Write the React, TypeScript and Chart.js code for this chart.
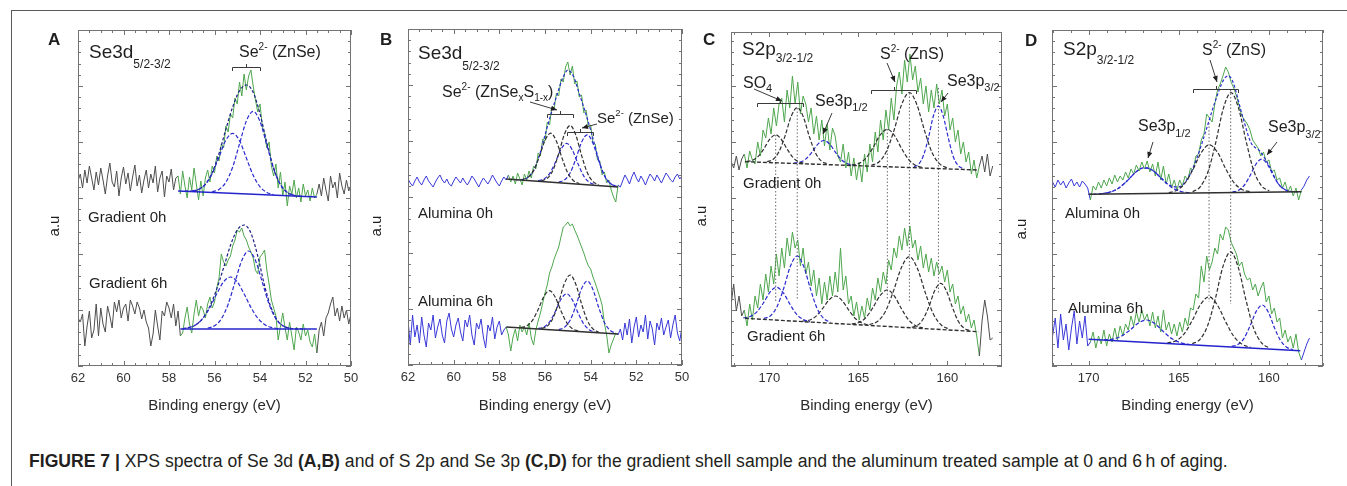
import React, { useEffect, useRef } from "react";
import { Chart, registerables } from "chart.js";
Chart.register(...registerables);

const FONT = '"Liberation Sans", Arial, Helvetica, sans-serif';
const INK = "#1f1f1f";
const GREEN = "#4ea64e";
const BLUE = "#3838d8";
const FIT_BLUE = "#2b2bd0";
const ENV_BLUE = "#1d1d86";
const FIT_BLACK = "#303030";
const GREY_SPEC = "#4d4d4d";
const Y_MINOR = 11.2;

type Pt = [number, number];

// ================= Panel A : Se 3d, gradient shell (energy grid 62 -> 50, 0.1 eV) =================
const A_START = 62.0;
const A_STEP = 0.1;
const A_TOP: number[] = [
  185, 192, 178, 196, 183, 200, 188, 176, 194, 181,
  198, 186, 172, 190, 203, 184, 179, 195, 170, 188,
  199, 182, 193, 175, 189, 201, 180, 191, 173, 186,
  196, 178, 192, 183, 200, 174, 188, 195, 169, 190,
  184, 197, 176, 188,
  190, 172, 195, 180, 168, 189, 176, 198, 182, 166,
  185, 170, 188, 196, 184, 200, 193, 210, 205, 222,
  218, 240, 234, 252, 248, 268, 262, 284, 270, 292,
  276, 290, 296, 280, 266, 254, 262, 240, 232, 218,
  224, 200, 190, 202, 178, 194, 170, 184, 160, 180,
  172, 186, 168, 178, 164, 182, 170, 176, 165, 178,
  168, 172,
  182, 170, 188, 176, 165, 190, 178, 184, 168, 193, 180, 172, 186, 175, 181,
];
const A_BOT: number[] = [
  48, 44, 52, 20, 40, 55, 28, 36, 62, 30,
  58, 42, 34, 60, 50, 38, 64, 54, 66, 48,
  58, 62, 45, 66, 60, 52, 64, 58, 47, 56,
  44, 38, 20, 32, 56, 40, 26, 55, 50, 64,
  58, 48, 62, 40, 55, 30,
  33, 48, 59, 42, 33, 52, 66, 50, 60, 56,
  48, 62, 69, 58, 64, 78, 88, 112, 104, 100,
  106, 110, 120, 126, 136, 134, 138, 130, 126, 119,
  114, 108, 96, 92, 109, 112, 116, 96, 82, 66,
  58, 50, 26, 40, 53, 38, 26, 44, 30, 16,
  39, 34, 26, 42, 30, 36, 24, 19, 32, 13,
  36, 44, 30, 48, 53, 62, 69, 50, 58, 45, 60, 48, 56, 42, 52,
];
const A_TOP_G1: Pt[] = [[57.0,175],[56.7,176.6],[56.4,181.6],[56.1,192.5],[55.8,209.2],[55.5,225.9],[55.2,232.6],[54.9,225.3],[54.6,208],[54.3,190.7],[54.0,179.2],[53.7,173.6],[53.4,171.4]];
const A_TOP_G2: Pt[] = [[56.1,174.3],[55.8,176.6],[55.5,183.7],[55.2,199],[54.9,222.2],[54.6,245],[54.3,254.7],[54.0,244.4],[53.7,221],[53.4,197.2],[53.1,181.3],[52.8,173.6],[52.5,170.7]];
const A_TOP_ENV: Pt[] = [[57.3,174.8],[57.0,175],[56.7,176.6],[56.4,181.8],[56.1,193.3],[55.8,212.6],[55.5,236.7],[55.2,259],[54.9,275.2],[54.6,281],[54.3,273.7],[54.0,252.2],[53.7,223.5],[53.4,197.8],[53.1,181.4],[52.8,173.6],[52.5,170.7],[52.2,169.8]];
const A_TOP_BG: Pt[] = [[57.6,175],[51.5,169]];
const A_BOT_G1: Pt[] = [[57.4,37.4],[57.1,38.6],[56.8,41.5],[56.5,47.9],[56.2,58.6],[55.9,72.2],[55.6,84.2],[55.3,89],[55.0,84.2],[54.7,72.2],[54.4,58.6],[54.1,47.9],[53.8,41.5],[53.5,38.6],[53.2,37.4]];
const A_BOT_G2: Pt[] = [[56.3,37.8],[56.0,40.2],[55.7,47.1],[55.4,61.8],[55.1,83.9],[54.8,105.6],[54.5,115],[54.2,105.6],[53.9,83.9],[53.6,61.8],[53.3,47.1],[53.0,40.2],[52.7,37.8]];
const A_BOT_ENV: Pt[] = [[57.4,37.4],[57.1,38.6],[56.8,41.6],[56.5,48.2],[56.2,59.9],[55.9,77.1],[55.6,98.2],[55.3,120.5],[55.0,136],[54.7,141],[54.4,133],[54.1,110.1],[53.8,80.5],[53.5,57.6],[53.2,44.5],[52.9,39.2],[52.6,37.5],[52.3,37.1],[52.0,37]];
const A_BOT_BG: Pt[] = [[57.5,37],[51.5,37]];

// ================= Panel B : Se 3d, alumina treated (62 -> 50, 0.1 eV) =================
const B_START = 62.0;
const B_STEP = 0.1;
const B_TOP: number[] = [
  186, 182, 179, 184, 188, 183, 180, 185, 189, 184,
  181, 178, 183, 187, 190, 185, 182, 186, 181, 179,
  184, 188, 185, 182, 187, 183, 180, 184, 189, 186,
  182, 178, 183, 187, 184, 181, 185, 190, 186, 182,
  179, 184, 188, 185,
  190, 183, 189, 181, 192, 186, 180, 191, 185, 194,
  187, 199, 196, 212, 209, 226, 224, 243, 240, 258,
  256, 272, 269, 286, 283, 298, 303, 290, 299, 281,
  284, 268, 270, 252, 255, 238, 240, 222, 221, 205,
  204, 190, 193, 182, 185, 175, 168, 163, 180,
  178, 184, 190, 186, 181, 188, 193, 187, 183, 189, 185, 180, 186, 191,
  188, 184, 190, 186, 182, 187, 192, 189, 185, 183, 188, 191, 186, 189,
];
const B_BOT: number[] = [
  45, 20, 50, 28, 40, 22, 48, 30, 18, 42,
  35, 50, 27, 38, 46, 30, 22, 44, 52, 36,
  28, 40, 47, 33, 24, 45, 38, 50, 30, 20,
  42, 36, 46, 28, 17, 40, 34, 48, 26, 38,
  44, 30, 35,
  38, 30, 14, 28, 36, 24, 40, 33, 38, 30,
  42, 27, 20, 35, 44, 52, 62, 72, 80, 92,
  98, 106, 112, 118, 128, 138, 140, 143, 139, 141,
  135, 130, 124, 118, 112, 105, 99, 96, 88, 82,
  75, 68, 60, 42, 30, 12, 20, 26, 32, 30,
  36, 25, 42, 30, 46, 22, 38, 48, 28, 40, 33, 50, 26, 44,
  36, 20, 42, 35, 47, 30, 38, 45, 27, 40, 50, 32, 24, 38,
];
const B_TOP_G1: Pt[] = [[57.0,185.5],[56.75,187.6],[56.5,194.4],[56.25,208.2],[56.0,224.5],[55.75,231.9],[55.5,223.7],[55.25,206.6],[55.0,191.9],[54.75,184.3],[54.5,181.4]];
const B_TOP_G2: Pt[] = [[56.15,184.3],[55.9,186.7],[55.65,194.9],[55.4,211.3],[55.15,230.7],[54.9,239.5],[54.65,229.9],[54.4,209.7],[54.15,192.4],[53.9,183.4],[53.65,180.2]];
const B_TOP_G3: Pt[] = [[56.3,184.3],[56.05,185.9],[55.8,191.4],[55.55,202.5],[55.3,215.7],[55.05,221.7],[54.8,214.9],[54.55,200.9],[54.3,188.9],[54.05,182.6],[53.8,180.2]];
const B_TOP_G4: Pt[] = [[55.4,183],[55.15,185],[54.9,192],[54.65,206.1],[54.4,222.7],[54.15,230.2],[53.9,221.8],[53.65,204.4],[53.4,189.5],[53.15,181.7],[52.9,178.9]];
const B_TOP_ENV: Pt[] = [[57.5,185.7],[57.25,185.4],[57.0,185.5],[56.75,187.6],[56.5,194.5],[56.25,209.3],[56.0,229.8],[55.75,250],[55.5,268.2],[55.25,285.4],[55.0,294.8],[54.75,288.4],[54.5,271.5],[54.25,253.9],[54.0,235],[53.75,213.6],[53.5,194.9],[53.25,184.1],[53.0,179.7],[52.75,178.2]];
const B_TOP_BG: Pt[] = [[57.7,186],[52.8,178]];
const B_BOT_G1: Pt[] = [[57.05,37.6],[56.8,39.1],[56.55,44.6],[56.3,55.5],[56.05,68.4],[55.8,74.3],[55.55,67.7],[55.3,54.1],[55.05,42.4],[54.8,36.3],[54.55,34.0]];
const B_BOT_G2: Pt[] = [[56.15,36.5],[55.9,38.9],[55.65,46.9],[55.4,62.7],[55.15,81.5],[54.9,90],[54.65,80.7],[54.4,61.3],[54.15,44.7],[53.9,36.1],[53.65,32.9]];
const B_BOT_G3: Pt[] = [[56.3,36.5],[56.05,37.9],[55.8,43.1],[55.55,53.4],[55.3,65.7],[55.05,71.2],[54.8,65],[54.55,52],[54.3,40.9],[54.05,35.1],[53.8,32.9]];
const B_BOT_G4: Pt[] = [[55.4,35.4],[55.15,37.6],[54.9,44.7],[54.65,59.1],[54.4,76.2],[54.15,83.9],[53.9,75.5],[53.65,57.7],[53.4,42.6],[53.15,34.7],[52.9,31.8]];
const B_BOT_BG: Pt[] = [[57.7,38],[52.8,31]];

// ================= Panel C : S 2p / Se 3p, gradient shell (172.15 -> 157.45, 0.15 eV) =================
const C_START = 172.15;
const C_STEP = 0.15;
const C_TOP: number[] = [
  205, 198, 210, 196, 207,
  212, 198, 215, 206, 202, 224, 210, 236, 228, 248,
  232, 258, 240, 262, 268, 244, 276, 258, 290, 262,
  284, 252, 270, 262, 244, 258, 232, 250, 226, 246,
  220, 242, 216, 238, 230, 210, 204, 222, 198, 214,
  190, 208, 186, 204, 184, 212, 194, 222, 204, 234,
  214, 246, 226, 256, 236, 268, 246, 280, 294, 272,
  306, 284, 312, 286, 300, 274, 288, 262, 280, 254,
  276, 258, 282, 262, 276, 250, 262, 236, 248, 224,
  236, 212, 224, 204, 214, 192, 206, 188, 200,
  210, 194, 212, 190, 200,
];
const C_BOT: number[] = [
  60, 82, 55, 70, 50,
  56, 40, 62, 46, 70, 58, 82, 66, 92, 74,
  100, 82, 112, 90, 118, 98, 128, 110, 134, 118,
  126, 100, 118, 92, 104, 80, 96, 70, 88, 62,
  84, 66, 90, 70, 94, 74, 118, 76, 90, 62,
  70, 50, 64, 46, 60, 48, 68, 56, 78, 66,
  88, 74, 94, 82, 106, 96, 118, 108, 130, 116,
  138, 120, 140, 118, 126, 106, 120, 98, 112, 94,
  108, 90, 104, 92, 100, 84, 96, 74, 82, 62,
  70, 52, 60, 44, 52, 38, 46, 30, 10,
  45, 66, 50, 26, 28,
];
const C_TOP_P1: Pt[] = [[171.27,204.6],[170.94,205.8],[170.62,209.7],[170.29,217.6],[169.97,226.9],[169.64,231.2],[169.32,226.5],[168.99,216.8],[168.67,208.5],[168.34,204.2],[168.02,202.6]];
const C_TOP_P2: Pt[] = [[170.12,204.2],[169.78,206.8],[169.44,214.9],[169.10,230.8],[168.77,249.7],[168.43,258.4],[168.09,249.3],[167.76,230],[167.42,213.6],[167.08,205.1],[166.74,202.1]];
const C_TOP_P3: Pt[] = [[168.62,202.8],[168.28,203.8],[167.94,207.1],[167.60,213.9],[167.27,221.9],[166.93,225.5],[166.59,221.5],[166.26,213.1],[165.92,205.8],[165.58,202.1],[165.24,200.7]];
const C_TOP_P4: Pt[] = [[165.37,201],[164.97,202.5],[164.57,207.9],[164.17,218.5],[163.77,231],[163.37,236.7],[162.97,230.5],[162.57,217.5],[162.17,206.4],[161.77,200.5],[161.37,198.5]];
const C_TOP_P5: Pt[] = [[164.26,200.8],[163.83,204.2],[163.41,215.1],[162.98,236.5],[162.56,261.8],[162.13,273.5],[161.71,261.3],[161.28,235.4],[160.86,213.5],[160.43,202.1],[160.01,198.1]];
const C_TOP_P6: Pt[] = [[161.88,199.1],[161.6,202],[161.33,211],[161.05,229.1],[160.78,250.2],[160.5,260],[160.23,249.9],[159.95,228.4],[159.68,210],[159.4,200.6],[159.13,197.4]];
const C_TOP_BG: Pt[] = [[171.37,204.3],[158.24,196]];
const C_BOT_Q1: Pt[] = [[171.46,48.2],[171.08,49.5],[170.71,53.9],[170.33,63],[169.96,73.9],[169.58,78.7],[169.21,73.1],[168.83,61.5],[168.46,51.6],[168.08,46.4],[167.71,44.4]];
const C_BOT_Q2: Pt[] = [[170.31,47.5],[169.93,50.3],[169.56,59.6],[169.18,78.2],[168.81,100],[168.43,110],[168.06,99.2],[167.68,76.6],[167.31,57.3],[166.93,47.3],[166.56,43.7]];
const C_BOT_Q3: Pt[] = [[168.15,44.8],[167.77,45.7],[167.40,49.4],[167.02,57.1],[166.65,66],[166.27,70],[165.90,65.2],[165.52,55.5],[165.15,47.2],[164.77,42.7],[164.40,41]];
const C_BOT_Q4: Pt[] = [[165.37,42.1],[164.97,43.5],[164.57,48.5],[164.17,58.7],[163.77,70.6],[163.37,76],[162.97,69.8],[162.57,57],[162.17,46],[161.77,40.2],[161.37,38]];
const C_BOT_Q5: Pt[] = [[164.38,41.5],[163.93,44.5],[163.48,54.5],[163.03,74.7],[162.58,98.4],[162.13,109.3],[161.68,97.5],[161.23,72.9],[160.78,51.8],[160.33,40.8],[159.88,36.9]];
const C_BOT_Q6: Pt[] = [[162.0,38.7],[161.67,40.7],[161.35,47.2],[161.02,60.2],[160.70,75.7],[160.37,82.7],[160.05,75],[159.72,58.9],[159.40,45.2],[159.07,38],[158.75,35.4]];
const C_BOT_BG: Pt[] = [[171.37,47.7],[158.24,34.3]];
const C_GUIDE_E: number[] = [169.64, 168.43, 163.37, 162.13, 160.5];
const C_GUIDE_TOP: number[] = [231, 258, 237, 273, 278];
const C_GUIDE_BOT: number[] = [63, 66, 66, 64, 73];

// ================= Panel D : S 2p / Se 3p, alumina treated (172.0 -> 157.75, 0.15 eV) =================
const D_START = 172.0;
const D_STEP = 0.15;
const D_TOP: number[] = [
  184, 179, 186, 181, 185, 178, 183, 187, 180, 184, 179, 185, 182, 178,
  166, 180, 176, 184, 178, 186, 180, 188, 182, 191,
  184, 190, 186, 194, 188, 197, 192, 201, 195, 204,
  197, 205, 194, 202, 190, 204, 186, 200, 182, 192,
  178, 186, 176, 186, 180, 190, 186, 198, 196, 210,
  212, 226, 232, 252, 248, 244, 262, 276, 282, 290,
  299, 294, 284, 278, 270, 260, 250, 246, 242, 236,
  226, 222, 218, 210, 214, 204, 206, 194, 196, 186,
  188, 178, 184, 174, 180, 170, 178, 166, 176,
  180, 186, 190,
];
const D_BOT: number[] = [
  30, 48, 18, 52, 26, 42, 16, 38, 55, 22, 45, 28, 50, 20,
  24, 34, 18, 30, 22, 36, 20, 32, 24, 38,
  26, 40, 30, 42, 36, 50, 40, 54, 44, 56,
  46, 52, 40, 54, 38, 50, 34, 56, 36, 44,
  32, 42, 30, 44, 34, 48, 40, 58, 56, 72,
  68, 100, 84, 110, 96, 104, 118, 112, 132, 126,
  139, 136, 124, 118, 112, 100, 104, 92, 86, 88,
  76, 82, 70, 78, 84, 64, 70, 52, 58, 44,
  48, 28, 36, 24, 30, 18, 32, 14, 6,
  14, 22, 28,
];
const D_TOP_R1: Pt[] = [[169.36,172.1],[168.86,173.6],[168.36,177.6],[167.86,185.2],[167.36,194.2],[166.86,198.4],[166.36,194.4],[165.86,185.6],[165.36,178.2],[164.86,174.4],[164.36,173.2]];
const D_TOP_R2: Pt[] = [[165.55,173.3],[165.1,175.8],[164.65,183],[164.2,197],[163.75,213.5],[163.3,221.2],[162.85,213.7],[162.4,197.4],[161.95,183.6],[161.5,176.6],[161.05,174.3]];
const D_TOP_R3: Pt[] = [[164.23,174.3],[163.8,179.4],[163.38,194.2],[162.95,223.3],[162.53,257.4],[162.1,273.4],[161.68,257.6],[161.25,223.6],[160.83,194.7],[160.4,180],[159.98,175.2]];
const D_TOP_R4: Pt[] = [[162.03,173.9],[161.7,175.6],[161.38,180.5],[161.05,190.2],[160.73,201.5],[160.4,206.8],[160.08,201.7],[159.75,190.4],[159.43,180.9],[159.1,176.2],[158.78,174.6]];
const D_TOP_ENV: Pt[] = [[170,171.7],[169.5,172.0],[169,173.1],[168.5,176.1],[168,182.8],[167.5,191.9],[167,198.0],[166.5,196.3],[166,188.3],[165.5,180.7],[165,179.2],[164.5,187.6],[164,207.6],[163.5,235],[163,263.5],[162.5,286.6],[162.25,290],[162,284.3],[161.5,252.2],[161,223.5],[160.5,214.9],[160,200.6],[159.5,182.9],[159,175.4],[158.5,174.2],[158.2,174.3]];
const D_TOP_BG: Pt[] = [[170,171.7],[158.2,174.3]];
const D_BOT_S1: Pt[] = [[169.15,26.2],[168.67,26.8],[168.2,29.7],[167.72,35.7],[167.25,42.8],[166.77,46],[166.3,41.9],[165.82,33.9],[165.35,26.9],[164.87,23.1],[164.4,21.6]];
const D_BOT_S2: Pt[] = [[165.63,23.1],[165.17,25.1],[164.71,31.9],[164.25,45.6],[163.78,61.9],[163.32,69.2],[162.86,61],[162.39,43.9],[161.93,29.2],[161.47,21.6],[161.01,18.6]];
const D_BOT_S3: Pt[] = [[164.25,22.3],[163.82,26.6],[163.4,40.3],[162.97,67.4],[162.55,99.4],[162.12,114.1],[161.7,98.6],[161.27,65.8],[160.85,37.9],[160.42,23.3],[160.0,18.2]];
const D_BOT_S4: Pt[] = [[162.06,19.6],[161.72,21.4],[161.38,27.6],[161.05,39.9],[160.71,54.4],[160.37,61],[160.03,53.8],[159.7,38.6],[159.36,25.6],[159.02,18.8],[158.68,16.4]];
const D_BOT_BG: Pt[] = [[170,26.7],[158.26,15.3]];
const D_GUIDE_E: number[] = [163.32, 162.12];
const D_GUIDE_TOP: number[] = [243, 276];
const D_GUIDE_BOT: number[] = [64, 62];

// ================= drawing helpers =================
type Part = [string, number, number?];
function rich(ctx: CanvasRenderingContext2D, x: number, y: number, parts: Part[], bold = false) {
  let cx = x;
  ctx.textAlign = "left";
  ctx.textBaseline = "alphabetic";
  for (const [t, size, dy] of parts) {
    ctx.font = `${bold ? "bold " : ""}${size}px ${FONT}`;
    ctx.fillText(t, cx, y + (dy || 0));
    cx += ctx.measureText(t).width;
  }
}
function vtext(ctx: CanvasRenderingContext2D, x: number, y: number, t: string, size: number) {
  ctx.save();
  ctx.translate(x, y);
  ctx.rotate(-Math.PI / 2);
  ctx.font = `${size}px ${FONT}`;
  ctx.textAlign = "center";
  ctx.textBaseline = "middle";
  ctx.fillText(t, 0, 0);
  ctx.restore();
}
function arrow(ctx: CanvasRenderingContext2D, x1: number, y1: number, x2: number, y2: number) {
  ctx.beginPath();
  ctx.moveTo(x1, y1);
  ctx.lineTo(x2, y2);
  ctx.stroke();
  const a = Math.atan2(y2 - y1, x2 - x1);
  const L = 6, W = 2.6;
  ctx.beginPath();
  ctx.moveTo(x2, y2);
  ctx.lineTo(x2 - L * Math.cos(a) + W * Math.sin(a), y2 - L * Math.sin(a) - W * Math.cos(a));
  ctx.lineTo(x2 - L * Math.cos(a) - W * Math.sin(a), y2 - L * Math.sin(a) + W * Math.cos(a));
  ctx.closePath();
  ctx.fill();
}
function bracket(ctx: CanvasRenderingContext2D, x1: number, x2: number, y: number) {
  ctx.beginPath();
  ctx.moveTo(x1 + 0.5, y + 4);
  ctx.lineTo(x1 + 0.5, y + 0.5);
  ctx.lineTo(x2 + 0.5, y + 0.5);
  ctx.lineTo(x2 + 0.5, y + 4);
  const m = Math.round((x1 + x2) / 2) + 0.5;
  ctx.moveTo(m, y);
  ctx.lineTo(m, y - 3);
  ctx.stroke();
}

function drawA(ctx: CanvasRenderingContext2D) {
  rich(ctx, 48, 45, [["A", 17]], true);
  rich(ctx, 89, 58, [["Se3d", 19], ["5/2-3/2", 12, 10]]);
  rich(ctx, 239, 57, [["Se", 16], ["2-", 10, -7], [" (ZnSe)", 16]]);
  bracket(ctx, 232, 260, 67);
  rich(ctx, 88, 222, [["Gradient 0h", 15]]);
  rich(ctx, 89, 288, [["Gradient 6h", 15]]);
  vtext(ctx, 55, 226, "a.u", 15);
}
function drawB(ctx: CanvasRenderingContext2D) {
  rich(ctx, 380, 45, [["B", 17]], true);
  rich(ctx, 418, 59, [["Se3d", 19], ["5/2-3/2", 12, 11]]);
  rich(ctx, 442, 97, [["Se", 16], ["2-", 10, -7], [" (ZnSe", 16], ["x", 10, 4], ["S", 16], ["1-x", 10, 4], [")", 16]]);
  arrow(ctx, 530, 102, 557, 110);
  bracket(ctx, 547, 573, 114);
  rich(ctx, 597, 123, [["Se", 15], ["2-", 9.5, -7], [" (ZnSe)", 15]]);
  arrow(ctx, 597, 124, 582, 128);
  bracket(ctx, 567, 593, 132);
  rich(ctx, 418, 218, [["Alumina 0h", 15]]);
  rich(ctx, 418, 306, [["Alumina 6h", 15]]);
  vtext(ctx, 377, 226, "a.u", 15);
}
function drawC(ctx: CanvasRenderingContext2D) {
  rich(ctx, 703, 45, [["C", 17]], true);
  rich(ctx, 742, 55, [["S2p", 19], ["3/2-1/2", 12, 7]]);
  rich(ctx, 743, 88, [["SO", 16], ["4", 11, 4]]);
  arrow(ctx, 754, 89, 782, 101);
  bracket(ctx, 757, 803, 103);
  rich(ctx, 815, 106, [["Se3p", 16], ["1/2", 11, 5]]);
  arrow(ctx, 832, 113, 823, 134);
  rich(ctx, 880, 59, [["S", 16], ["2-", 10, -7], [" (ZnS)", 16]]);
  arrow(ctx, 887, 63, 895, 82);
  bracket(ctx, 871, 916, 90);
  rich(ctx, 947, 86, [["Se3p", 16], ["3/2", 11, 5]]);
  arrow(ctx, 948, 93, 941, 102);
  rich(ctx, 743, 188, [["Gradient 0h", 15]]);
  rich(ctx, 747, 341, [["Gradient 6h", 15]]);
  vtext(ctx, 702, 216, "a.u", 15);
}
function drawD(ctx: CanvasRenderingContext2D) {
  rich(ctx, 1025, 46, [["D", 17]], true);
  rich(ctx, 1063, 55, [["S2p", 19], ["3/2-1/2", 12, 9]]);
  rich(ctx, 1202, 55, [["S", 16], ["2-", 10, -7], [" (ZnS)", 16]]);
  arrow(ctx, 1210, 60, 1217, 82);
  bracket(ctx, 1193, 1238, 89);
  rich(ctx, 1138, 131, [["Se3p", 16], ["1/2", 11, 6]]);
  arrow(ctx, 1153, 142, 1148, 158);
  rich(ctx, 1268, 132, [["Se3p", 16], ["3/2", 11, 6]]);
  arrow(ctx, 1277, 142, 1267, 155);
  rich(ctx, 1065, 218, [["Alumina 0h", 15]]);
  rich(ctx, 1068, 313, [["Alumina 6h", 15]]);
  vtext(ctx, 1022, 229, "a.u", 15);
}

// ================= panel definitions =================
interface Spec { start: number; step: number; vals: number[]; hi: number; lo: number; outer: string }
interface Fit { pts: Pt[]; color: string; dash?: number[]; width?: number }
interface Guides { e: number[]; top: number[]; bot: number[] }
interface PanelDef {
  l: number; r: number; t: number; b: number;
  xMin: number; xMax: number; major: number; minor: number;
  specs: Spec[]; fits: Fit[]; guides?: Guides;
  draw: (ctx: CanvasRenderingContext2D) => void;
}
const DASH = [4, 2];
const bf = (pts: Pt[]): Fit => ({ pts, color: FIT_BLUE, dash: DASH });
const kf = (pts: Pt[]): Fit => ({ pts, color: FIT_BLACK, dash: DASH });

const PANELS: PanelDef[] = [
  {
    l: 78, r: 351, t: 30, b: 366, xMin: 50, xMax: 62, major: 2, minor: 0.5,
    specs: [
      { start: A_START, step: A_STEP, vals: A_TOP, hi: 57.6, lo: 51.5, outer: GREY_SPEC },
      { start: A_START, step: A_STEP, vals: A_BOT, hi: 57.5, lo: 51.5, outer: GREY_SPEC },
    ],
    fits: [
      { pts: A_TOP_BG, color: "#2424cc", width: 1.6 }, bf(A_TOP_G1), bf(A_TOP_G2), { pts: A_TOP_ENV, color: ENV_BLUE, dash: [3, 2] },
      { pts: A_BOT_BG, color: "#2424cc", width: 1.6 }, bf(A_BOT_G1), bf(A_BOT_G2), { pts: A_BOT_ENV, color: ENV_BLUE, dash: [3, 2] },
    ],
    draw: drawA,
  },
  {
    l: 408, r: 682, t: 29, b: 365, xMin: 50, xMax: 62, major: 2, minor: 0.5,
    specs: [
      { start: B_START, step: B_STEP, vals: B_TOP, hi: 57.6, lo: 52.8, outer: BLUE },
      { start: B_START, step: B_STEP, vals: B_BOT, hi: 57.7, lo: 52.8, outer: BLUE },
    ],
    fits: [
      { pts: B_TOP_BG, color: FIT_BLACK, width: 1.4 }, kf(B_TOP_G1), kf(B_TOP_G2), bf(B_TOP_G3), bf(B_TOP_G4),
      { pts: B_TOP_ENV, color: FIT_BLUE, dash: [3, 2] },
      { pts: B_BOT_BG, color: FIT_BLACK, width: 1.4 }, kf(B_BOT_G1), kf(B_BOT_G2), bf(B_BOT_G3), bf(B_BOT_G4),
    ],
    draw: drawB,
  },
  {
    l: 731, r: 1002, t: 32, b: 366, xMin: 156.93, xMax: 172.15, major: 5, minor: 1,
    specs: [
      { start: C_START, step: C_STEP, vals: C_TOP, hi: 171.4, lo: 158.2, outer: GREY_SPEC },
      { start: C_START, step: C_STEP, vals: C_BOT, hi: 171.4, lo: 158.2, outer: GREY_SPEC },
    ],
    fits: [
      { pts: C_TOP_BG, color: FIT_BLACK, dash: DASH, width: 1.4 }, kf(C_TOP_P1), kf(C_TOP_P2), bf(C_TOP_P3), kf(C_TOP_P4), kf(C_TOP_P5), bf(C_TOP_P6),
      { pts: C_BOT_BG, color: FIT_BLACK, dash: DASH, width: 1.4 }, bf(C_BOT_Q1), bf(C_BOT_Q2), kf(C_BOT_Q3), kf(C_BOT_Q4), kf(C_BOT_Q5), kf(C_BOT_Q6),
    ],
    guides: { e: C_GUIDE_E, top: C_GUIDE_TOP, bot: C_GUIDE_BOT },
    draw: drawC,
  },
  {
    l: 1052, r: 1323, t: 30, b: 366, xMin: 157.0, xMax: 172.03, major: 5, minor: 1,
    specs: [
      { start: D_START, step: D_STEP, vals: D_TOP, hi: 170.0, lo: 158.2, outer: BLUE },
      { start: D_START, step: D_STEP, vals: D_BOT, hi: 170.0, lo: 158.2, outer: BLUE },
    ],
    fits: [
      { pts: D_TOP_BG, color: FIT_BLACK, width: 1.4 }, bf(D_TOP_R1), kf(D_TOP_R2), kf(D_TOP_R3), bf(D_TOP_R4),
      { pts: D_TOP_ENV, color: FIT_BLUE, dash: [3, 2] },
      { pts: D_BOT_BG, color: "#2424cc", width: 1.6 }, bf(D_BOT_S1), kf(D_BOT_S2), kf(D_BOT_S3), bf(D_BOT_S4),
    ],
    guides: { e: D_GUIDE_E, top: D_GUIDE_TOP, bot: D_GUIDE_BOT },
    draw: drawD,
  },
];

const PAD_L = 40;
const PAD_R = 10;
const CANVAS_H = 430;
const AXIS_BOTTOM = 419;

function PanelChart({ p }: { p: PanelDef }) {
  const ref = useRef<HTMLCanvasElement>(null);
  const left = p.l - PAD_L;
  const width = p.r - p.l + PAD_L + PAD_R;
  useEffect(() => {
    const canvas = ref.current;
    if (!canvas) return;
    const datasets: any[] = [];
    p.specs.forEach((s) => {
      datasets.push({
        data: s.vals.map((v, i) => ({ x: +(s.start - s.step * i).toFixed(3), y: v })),
        borderColor: s.outer,
        borderWidth: 1,
        pointRadius: 0,
        order: 3,
        segment: {
          borderColor: (c: any) =>
            c.p0.parsed.x <= s.hi + 1e-6 && c.p1.parsed.x >= s.lo - 1e-6 ? GREEN : s.outer,
        },
      });
    });
    p.fits.forEach((f) => {
      datasets.push({
        data: f.pts.map(([x, y]) => ({ x, y })),
        borderColor: f.color,
        borderWidth: f.width ?? 1.2,
        borderDash: f.dash ?? [],
        pointRadius: 0,
        cubicInterpolationMode: "monotone",
        order: 1,
      });
    });
    if (p.guides) {
      const g = p.guides;
      g.e.forEach((e, i) => {
        datasets.push({
          data: [{ x: e, y: g.top[i] }, { x: e, y: g.bot[i] }],
          borderColor: "#6a6a6a",
          borderWidth: 1,
          borderDash: [1.5, 2],
          pointRadius: 0,
          order: 2,
        });
      });
    }
    const framePlugin = {
      id: "frame",
      afterDraw(chart: any) {
        const { ctx, chartArea: a, scales } = chart;
        const xs = scales.x, ys = scales.y;
        ctx.save();
        ctx.strokeStyle = "#737373";
        ctx.lineWidth = 1;
        ctx.strokeRect(a.left + 0.5, a.top + 0.5, a.right - a.left - 1, a.bottom - a.top - 1);
        ctx.beginPath();
        const first = Math.ceil(p.xMin / p.minor - 1e-9);
        const last = Math.floor(p.xMax / p.minor + 1e-9);
        for (let k = first; k <= last; k++) {
          const e = k * p.minor;
          const px = Math.round(xs.getPixelForValue(e)) + 0.5;
          const q = e / p.major;
          const L = Math.abs(q - Math.round(q)) < 1e-6 ? 5 : 3;
          ctx.moveTo(px, a.bottom);
          ctx.lineTo(px, a.bottom - L);
          ctx.moveTo(px, a.top);
          ctx.lineTo(px, a.top + L);
        }
        for (let k = 0; k * Y_MINOR <= ys.max + 1e-6; k++) {
          const py = Math.round(ys.getPixelForValue(k * Y_MINOR)) + 0.5;
          const L = k % 5 === 0 ? 5 : 3;
          ctx.moveTo(a.left, py);
          ctx.lineTo(a.left + L, py);
          ctx.moveTo(a.right, py);
          ctx.lineTo(a.right - L, py);
        }
        ctx.stroke();
        ctx.translate(-left, 0);
        ctx.fillStyle = INK;
        ctx.strokeStyle = "#3a3a3a";
        ctx.lineWidth = 1;
        p.draw(ctx);
        ctx.restore();
      },
    };
    const chart = new Chart(canvas, {
      type: "line",
      data: { datasets },
      options: {
        responsive: false,
        animation: false,
        devicePixelRatio: 1,
        layout: { padding: { left: PAD_L, right: PAD_R, top: p.t, bottom: CANVAS_H - AXIS_BOTTOM } },
        plugins: { legend: { display: false }, tooltip: { enabled: false }, title: { display: false } },
        elements: { point: { radius: 0 }, line: { tension: 0 } },
        scales: {
          x: {
            type: "linear",
            min: p.xMin,
            max: p.xMax,
            reverse: true,
            grid: { display: false, drawTicks: false },
            border: { display: false },
            ticks: {
              stepSize: p.major,
              includeBounds: false,
              autoSkip: false,
              maxRotation: 0,
              padding: 5,
              color: "#333",
              font: { family: FONT, size: 13 },
            },
            title: {
              display: true,
              text: "Binding energy (eV)",
              color: "#2a2a2a",
              font: { family: FONT, size: 15 },
              padding: { top: 4, bottom: 4 },
            },
            afterFit: (s: any) => {
              s.height = AXIS_BOTTOM - p.b;
              s.paddingLeft = 0;
              s.paddingRight = 0;
            },
          },
          y: { type: "linear", display: false, min: 0, max: p.b - p.t },
        },
      } as any,
      plugins: [framePlugin],
    });
    return () => chart.destroy();
  }, []);
  return (
    <canvas
      ref={ref}
      width={width}
      height={CANVAS_H}
      style={{ position: "absolute", left, top: 0, width, height: CANVAS_H }}
    />
  );
}

export default function App() {
  return (
    <div
      style={{
        position: "absolute",
        left: 0,
        top: 0,
        width: 1347,
        height: 486,
        background: "#fff",
        overflow: "hidden",
        fontFamily: FONT,
      }}
    >
      <div style={{ position: "absolute", left: 11, top: 10, width: 1336, height: 1, background: "#5a5a5a" }} />
      <div style={{ position: "absolute", left: 11, top: 10, width: 1, height: 476, background: "#5a5a5a" }} />
      {PANELS.map((p, i) => (
        <PanelChart key={i} p={p} />
      ))}
      <div
        style={{
          position: "absolute",
          left: 29,
          top: 451,
          fontSize: 17.6,
          lineHeight: "21px",
          color: "#231f20",
          whiteSpace: "nowrap",
        }}
      >
        <b>FIGURE 7 |</b> XPS spectra of Se 3d <b>(A,B)</b> and of S 2p and Se 3p <b>(C,D)</b> for the gradient
        shell sample and the aluminum treated sample at 0 and 6{"\u2009"}h of aging.
      </div>
    </div>
  );
}
